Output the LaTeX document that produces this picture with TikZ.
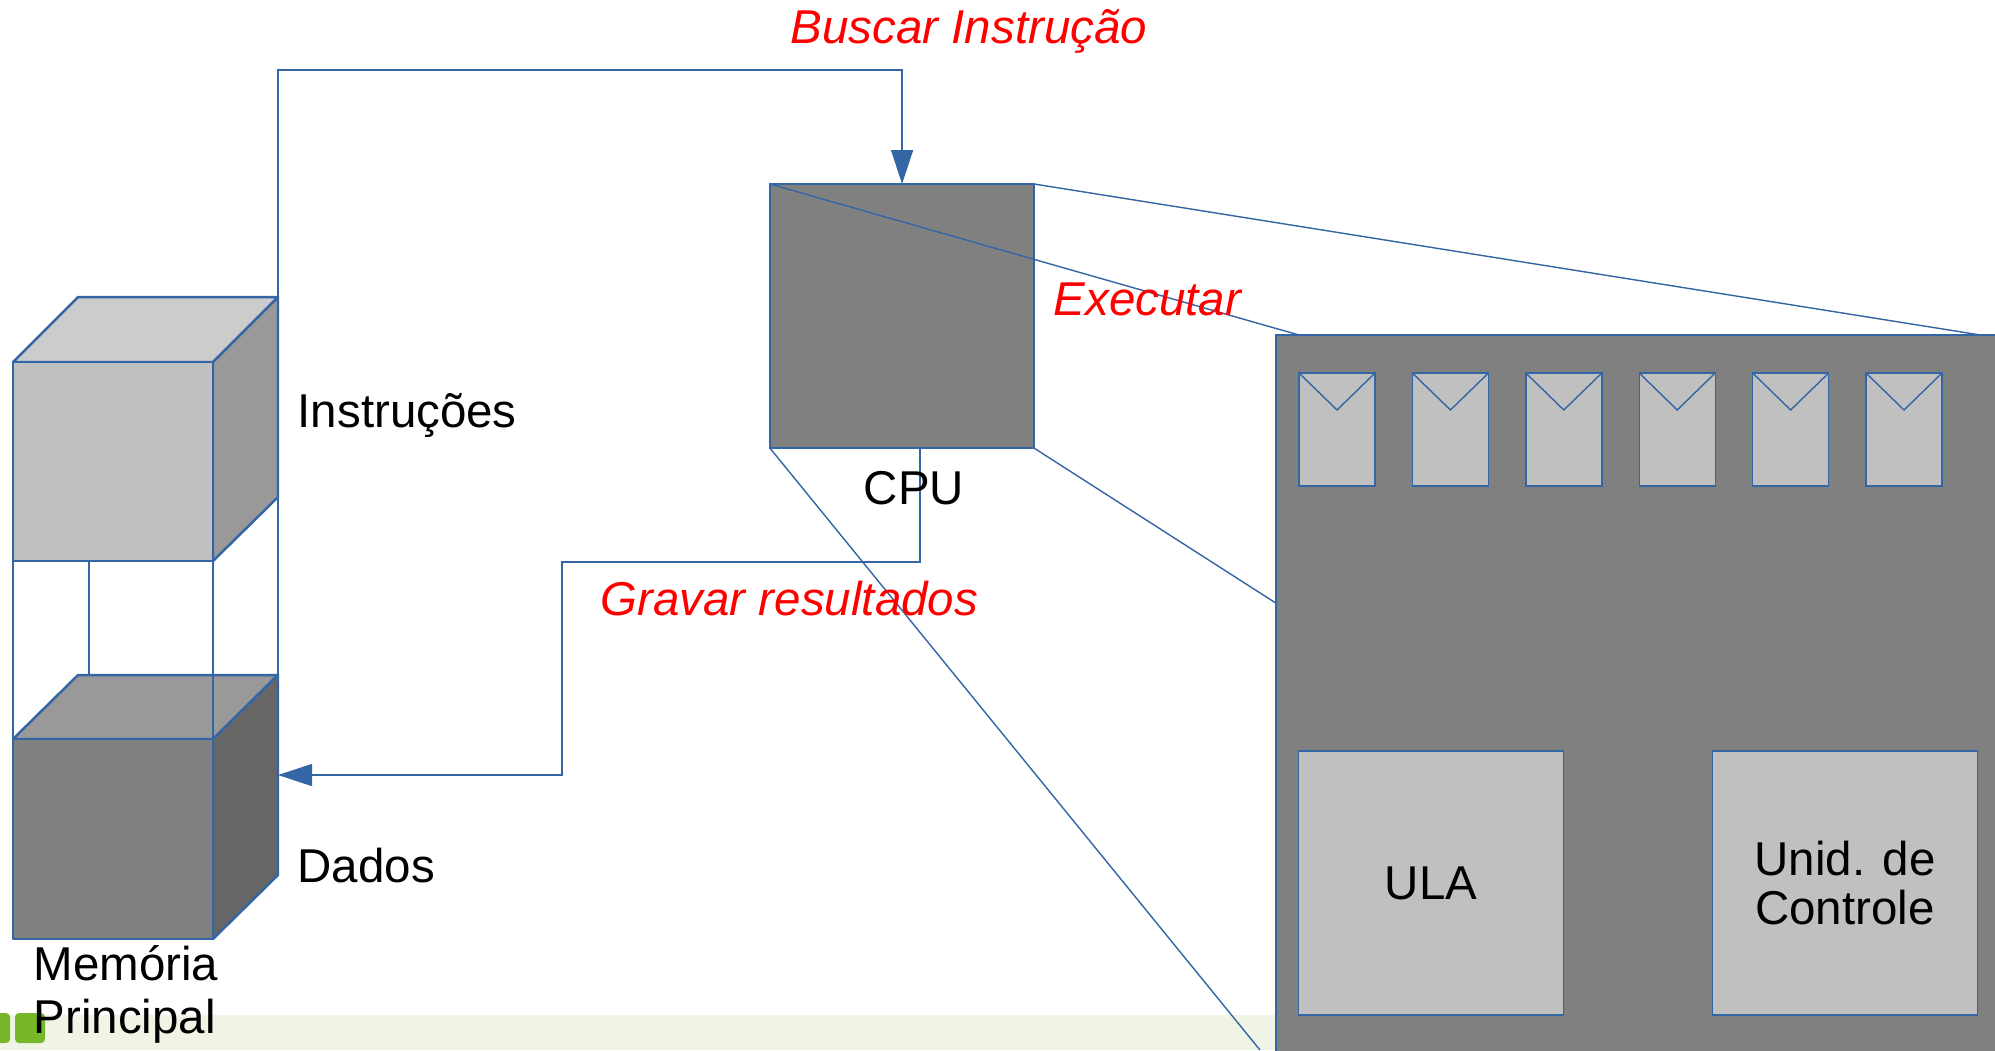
\documentclass[tikz,border=0pt]{standalone}
\usepackage{fontspec}
\setmainfont{Liberation Sans}
\usetikzlibrary{arrows.meta,positioning}

\definecolor{lineblue}{HTML}{3465A4}
\definecolor{bandgreen}{HTML}{F0F4E4}
\definecolor{logogreen}{HTML}{77B82A}
\definecolor{gray80}{HTML}{CCCCCC}
\definecolor{gray75}{HTML}{C0C0C0}
\definecolor{gray60}{HTML}{999999}
\definecolor{gray50}{HTML}{808080}
\definecolor{gray40}{HTML}{666666}

\tikzset{
	wire/.style={draw=lineblue, line width=0.4pt},
	cube/.style={draw=lineblue, line width=0.7pt, line join=round},
	tip/.style={-{Triangle[length=0.34cm,width=0.22cm]}},
	txt/.style={font=\fontsize{13.5}{15}\selectfont, inner sep=0pt},
	redtxt/.style={txt, text=red, font=\fontsize{13.5}{15}\selectfont\itshape},
	block/.style={draw=lineblue, line width=0.4pt, fill=gray50, inner sep=0pt, outer sep=0pt},
	reg/.style={draw=lineblue, line width=0.4pt, fill=gray75, minimum width=0.76cm, minimum height=1.13cm, inner sep=0pt, outer sep=0pt},
	unit/.style={draw=lineblue, line width=0.4pt, fill=gray75, minimum width=2.65cm, minimum height=2.64cm, inner sep=0pt, outer sep=0pt, txt, align=center}
}

\begin{document}
\begin{tikzpicture}[x=0.01cm, y=-0.01cm]

		\useasboundingbox (0,0) rectangle (1995,1050);
		\clip (0,0) rectangle (1995,1050);

		% fundo do slide
		\fill[bandgreen] (0,1015) rectangle (1276,1050);
		\fill[logogreen, rounded corners=0.04cm] (-20,1013) rectangle (10,1043);
		\fill[logogreen, rounded corners=0.04cm] (15,1013) rectangle (45,1043);

		% memoria: cubo de instrucoes
		\filldraw[fill=gray80, cube] (13,362) -- (78,297) -- (278,297) -- (213,362) -- cycle;
		\filldraw[fill=gray60, cube] (213,362) -- (278,297) -- (278,497) -- (213,561) -- cycle;
		\filldraw[fill=gray75, cube] (13,362) rectangle (213,561);

		% memoria: cubo de dados
		\filldraw[fill=gray60, cube] (13,739) -- (78,675) -- (278,675) -- (213,739) -- cycle;
		\filldraw[fill=gray40, cube] (213,739) -- (278,675) -- (278,875) -- (213,939) -- cycle;
		\filldraw[fill=gray50, cube] (13,739) rectangle (213,939);
		\coordinate (dtop) at (278,675);
		\coordinate (dmid) at (278,775);

		\draw[wire] (13,561) -- (13,739);
		\draw[wire] (89,561) -- (89,675);
		\draw[wire] (213,561) -- (213,739);

		% CPU e detalhe
		\node[block, minimum width=2.64cm, minimum height=2.64cm, anchor=north west] (cpu) at (770,184) {};
		\node[block, minimum width=7.19cm, minimum height=7.4cm, anchor=north west] (box) at (1276,335) {};

		\foreach \i in {0,...,5} {
			\node[reg] (r\i) at ({1337+113.4*\i},429.5) {};
			\draw[wire] (r\i.north west) -- ([yshift=-0.37cm]r\i.north) -- (r\i.north east);
		}

		\node[unit] (ula) at (1431,883) {ULA};
		\node[unit] (uc) at (1845,883) {Unid. de\\[-1pt] Controle};

		\draw[wire] (cpu.north west) -- ([xshift=0.23cm]box.north west);
		\draw[wire] (cpu.north east) -- ([xshift=-0.15cm]box.north east);
		\draw[wire] (cpu.south east) -- ([yshift=-2.68cm]box.north west);
		\draw[wire] (cpu.south west) -- (1260,1050);

		% ciclo
		\draw[wire, tip] (dtop) -- (278,70) -| (cpu.north);
		\draw[wire, tip] ([xshift=0.18cm]cpu.south) |- (562,562) |- (dmid);

		% textos
		\node[txt, anchor=base west] (instr) at (297,427) {Instruções};
		\node[txt, anchor=base west] (dados) at (297,882) {Dados};
		\node[txt, anchor=base west] (mem) at (33,980) {Memória};
		\node[txt, anchor=base west] (princ) at (33,1033) {Principal};
		\node[txt, anchor=base] (cpulbl) at (914,504) {CPU};
		\node[redtxt, anchor=base] (busca) at (969,43) {Buscar Instrução};
		\node[redtxt, anchor=base west] (exec) at (1053,315) {Executar};
		\node[redtxt, anchor=base west] (grava) at (600,615) {Gravar resultados};

\end{tikzpicture}
\end{document}
